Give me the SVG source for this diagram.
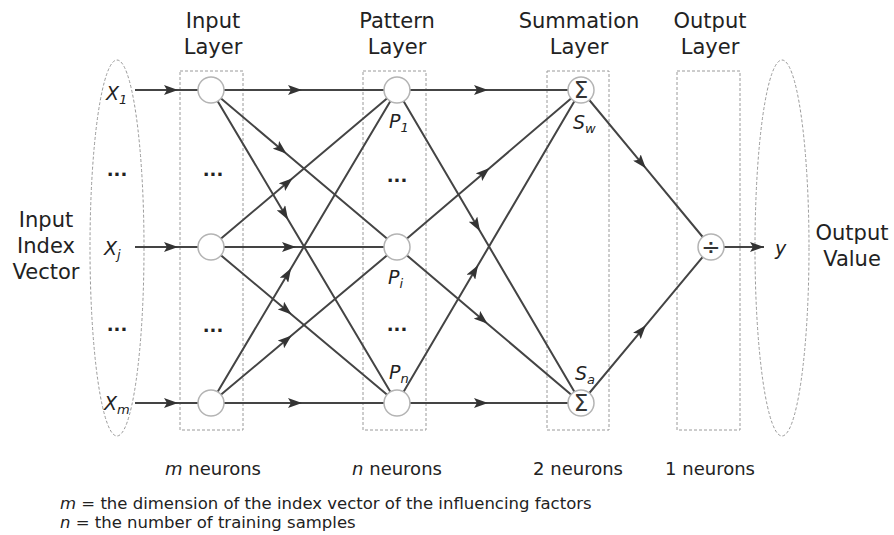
<svg xmlns="http://www.w3.org/2000/svg" width="894" height="535" viewBox="0 0 894 535">
<style>
text{font-family:"DejaVu Sans","Liberation Sans",sans-serif;fill:#222}
.t{font-size:21px;text-anchor:middle}
.b{font-size:18px;text-anchor:middle}
.it{font-style:italic}
.lab{font-size:19px;font-style:italic}
.sub{font-size:13px;font-style:italic}
.dots{font-size:18px;font-weight:bold;text-anchor:middle}
.box{fill:none;stroke:#9a9a9a;stroke-width:1;stroke-dasharray:3 2}
.n{fill:#fff;stroke:#b4b4b4;stroke-width:1.5}
.c{fill:none;stroke:#444;stroke-width:2;marker-mid:url(#a)}
.sym{font-size:23px;text-anchor:middle;fill:#333}
.fn{font-size:16.5px}
</style>
<defs>
<marker id="a" viewBox="0 0 14 10" refX="8" refY="5" markerWidth="14" markerHeight="10" markerUnits="userSpaceOnUse" orient="auto"><path d="M0,0 L14,5 L0,10 L3,5 z" fill="#333"/></marker>
<marker id="e" viewBox="0 0 14 10" refX="14" refY="5" markerWidth="14" markerHeight="10" markerUnits="userSpaceOnUse" orient="auto"><path d="M0,0 L14,5 L0,10 L3,5 z" fill="#333"/></marker>
</defs>

<g id="containers">
<ellipse class="box" cx="117" cy="248" rx="27" ry="188"/>
<ellipse class="box" cx="782" cy="248" rx="27" ry="188"/>
<rect class="box" x="180" y="71" width="63" height="359"/>
<rect class="box" x="363" y="71" width="63" height="359"/>
<rect class="box" x="547" y="71" width="62" height="359"/>
<rect class="box" x="677" y="71" width="63" height="359"/>
</g>

<g id="titles">
<text class="t" x="213" y="28">Input</text><text class="t" x="213" y="54">Layer</text>
<text class="t" x="397" y="28">Pattern</text><text class="t" x="397" y="54">Layer</text>
<text class="t" x="579" y="28">Summation</text><text class="t" x="579" y="54">Layer</text>
<text class="t" x="710" y="28">Output</text><text class="t" x="710" y="54">Layer</text>
<text class="t" x="46" y="227">Input</text><text class="t" x="46" y="253">Index</text><text class="t" x="46" y="279">Vector</text>
<text class="t" x="852" y="240">Output</text><text class="t" x="852" y="266">Value</text>
</g>

<g id="connectors">
<path class="c" d="M135,90 L172,90 L211,90"/>
<path class="c" d="M135,247 L172,247 L211,247"/>
<path class="c" d="M135,403 L172,403 L211,403"/>

<path class="c" d="M211,90 L296,90 L397,90"/>
<path class="c" d="M211,90 L282,150 L397,247"/>
<path class="c" d="M211,90 L285,214.5 L397,403"/>
<path class="c" d="M211,247 L288,182 L397,90"/>
<path class="c" d="M211,247 L290,247 L397,247"/>
<path class="c" d="M211,247 L287,310.7 L397,403"/>
<path class="c" d="M211,403 L288,273.4 L397,90"/>
<path class="c" d="M211,403 L287,339.3 L397,247"/>
<path class="c" d="M211,403 L296,403 L397,403"/>

<path class="c" d="M397,90 L482,90 L581,90"/>
<path class="c" d="M397,90 L477,226 L581,403"/>
<path class="c" d="M397,247 L485,171.9 L581,90"/>
<path class="c" d="M397,247 L483,319.9 L581,403"/>
<path class="c" d="M397,403 L475,270.3 L581,90"/>
<path class="c" d="M397,403 L482,403 L581,403"/>

<path class="c" d="M581,90 L642,163.7 L711,247"/>
<path class="c" d="M581,403 L642,329.8 L711,247"/>
<path d="M711,247 L764,247" fill="none" stroke="#444" stroke-width="2" marker-end="url(#e)"/>
</g>

<g id="input-labels">
<text class="lab" x="106" y="100">X<tspan class="sub" dy="4">1</tspan></text>
<text class="lab" x="104" y="255">X<tspan class="sub" dy="4">j</tspan></text>
<text class="lab" x="104" y="410">X<tspan class="sub" dy="4">m</tspan></text>
<text class="dots" x="117" y="176">...</text>
<text class="dots" x="117" y="331">...</text>
</g>

<g id="I1"><circle class="n" cx="211" cy="90" r="13"/></g>
<g id="Ij"><circle class="n" cx="211" cy="247" r="13"/></g>
<g id="Im"><circle class="n" cx="211" cy="403" r="13"/></g>
<g id="input-dots"><text class="dots" x="213" y="176">...</text><text class="dots" x="213" y="332">...</text></g>

<g id="P1"><circle class="n" cx="397" cy="90" r="13"/><text class="lab" x="389" y="128">P<tspan class="sub" dy="4">1</tspan></text></g>
<g id="Pi"><circle class="n" cx="397" cy="247" r="13"/><text class="lab" x="388" y="284">P<tspan class="sub" dy="4">i</tspan></text></g>
<g id="Pn"><circle class="n" cx="397" cy="403" r="13"/><text class="lab" x="389" y="379">P<tspan class="sub" dy="4">n</tspan></text></g>
<g id="pattern-dots"><text class="dots" x="397" y="182">...</text><text class="dots" x="397" y="331">...</text></g>

<g id="Sw"><circle class="n" cx="581" cy="90" r="13"/><text class="sym" x="581" y="98">Σ</text><text class="lab" x="573" y="129">S<tspan class="sub" dy="4">w</tspan></text></g>
<g id="Sa"><circle class="n" cx="581" cy="403" r="13"/><text class="sym" x="581" y="411">Σ</text><text class="lab" x="575" y="380">S<tspan class="sub" dy="4">a</tspan></text></g>

<g id="O"><circle class="n" cx="711" cy="247" r="13"/><text class="sym" x="711" y="255">÷</text></g>
<g id="y"><text class="lab" x="775" y="255">y</text></g>

<g id="bottom">
<text class="b" x="213" y="475"><tspan class="it">m</tspan> neurons</text>
<text class="b" x="397" y="475"><tspan class="it">n</tspan> neurons</text>
<text class="b" x="578" y="475">2 neurons</text>
<text class="b" x="710" y="475">1 neurons</text>
<text class="fn" x="60" y="509"><tspan class="it">m</tspan> = the dimension of the index vector of the influencing factors</text>
<text class="fn" x="60" y="528"><tspan class="it">n</tspan> = the number of training samples</text>
</g>
</svg>
